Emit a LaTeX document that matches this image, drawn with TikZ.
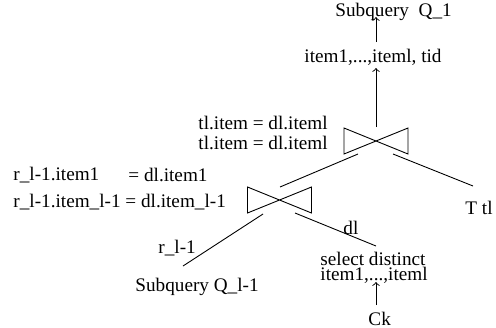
\documentclass[tikz,border=0pt]{standalone}
\usepackage{fontspec}
\setmainfont{Liberation Serif}
\usepackage{tikz}

\tikzset{
  lbl/.style={anchor=west, inner sep=0pt, font=\fontsize{9.6}{7.6}\selectfont},
  joinbox/.style={line width=0.45pt},
}
% draws the join sign round a centre coordinate
\newcommand{\joinmark}[1]{%
  \draw[joinbox] ([shift={(-32,-13)}]#1) -- ++(0,26) -- ++(64,-26) -- ++(0,26) -- cycle;}

\begin{document}
\begin{tikzpicture}[x=0.5pt, y=-0.5pt, line width=0.45pt]
  \useasboundingbox (0,0) rectangle (496,327);
  \node[lbl] (sqtop) at (335,12) {Subquery\ \ Q\_1};
  \node[lbl] (items) at (304,57) {item1,...,iteml, tid};
  \coordinate (topjoin) at (376,141);
  \joinmark{topjoin}
  \node[lbl] (condA) at (198,123) {tl.item = dl.iteml};
  \node[lbl] (condB) at (198,143) {tl.item = dl.iteml};
  \node[lbl] (ttl) at (465,208) {T tl};
  \coordinate (lowjoin) at (279.5,200);
  \joinmark{lowjoin}
  \node[lbl] (condC) at (13,175) {r\_l-1.item1};
  \node[lbl] (condCr) at (128,175) {= dl.item1};
  \node[lbl] (condD) at (13,202) {r\_l-1.item\_l-1 = dl.item\_l-1};
  \node[lbl] (rl) at (158,248) {r\_l-1};
  \node[lbl] (dl) at (343,228) {dl};
  \node[lbl] (sqlow) at (135,287) {Subquery Q\_l-1};
  \node[lbl, align=left] (sel) at (320,268) {select distinct\\item1,...,iteml};
  \node[lbl] (ck) at (368,319) {Ck};

  \draw[->] ([shift={(72,-15)}]items.west) -- ([shift={(41,5)}]sqtop.west);
  \draw[->] ([shift={(0,-14)}]topjoin) -- ([shift={(72,11)}]items.west);
  \draw ([shift={(-18,13)}]topjoin) -- ([shift={(0.5,-13)}]lowjoin);
  \draw ([shift={(17,13)}]topjoin) -- ([shift={(8,-22)}]ttl.west);
  \draw ([shift={(-16.5,14)}]lowjoin) -- ([shift={(48,-21)}]sqlow.west);
  \draw ([shift={(15.5,13)}]lowjoin) -- ([shift={(56,-22)}]sel.west);
  \draw[->] ([shift={(8,-14)}]ck.west) -- ([shift={(56,14)}]sel.west);
\end{tikzpicture}
\end{document}
